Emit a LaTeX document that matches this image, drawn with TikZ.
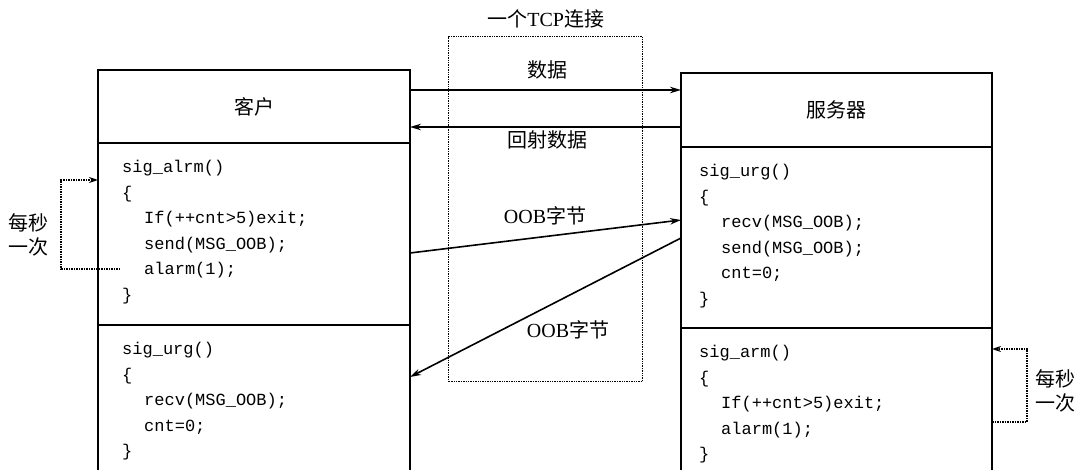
\documentclass[tikz,border=0pt]{standalone}
\usepackage{fontspec}
\setmainfont{Liberation Serif}
\setmonofont{Liberation Mono}
\newfontfamily\cjk{Noto Sans CJK SC}
\usetikzlibrary{positioning, arrows.meta}

\begin{document}
\begin{tikzpicture}[
    x=1pt, y=-1pt,
    part/.style={draw, line width=1.9pt, inner sep=0pt, outer sep=0pt, font=\cjk\fontsize{20}{24}\selectfont},
    code/.style={align=left, inner sep=0pt, font=\ttfamily\fontsize{17}{25.6}\selectfont},
    tag/.style={inner sep=0pt, align=center, font=\cjk\fontsize{20}{24}\selectfont},
    msg/.style={line width=1.6pt, -{Stealth[length=11pt, width=6.5pt]}},
    timer/.style={densely dotted, line width=1.5pt, -{Stealth[length=9pt, width=6pt]}}
]
    \useasboundingbox (0,0) rectangle (1085,470);

    % client
    \node[part, minimum width=312pt, minimum height=73pt, anchor=north west] (chead) at (98,70) {客户};
    \node[part, minimum width=312pt, minimum height=182pt, below=0pt of chead] (calrm) {};
    \node[part, minimum width=312pt, minimum height=155pt, below=0pt of calrm] (curg) {};

    % server
    \node[part, minimum width=311pt, minimum height=74pt, anchor=north west] (shead) at (681,73) {服务器};
    \node[part, minimum width=311pt, minimum height=181pt, below=0pt of shead] (surg) {};
    \node[part, minimum width=311pt, minimum height=152pt, below=0pt of surg] (sarm) {};

    % handler code
    \node[code, anchor=north west] (calrmcode) at ([xshift=24pt, yshift=-17pt]calrm.north west)
        {sig\_alrm()\\ \{\\ \hspace*{22pt}If(++cnt>5)exit;\\ \hspace*{22pt}send(MSG\_OOB);\\ \hspace*{22pt}alarm(1);\\ \}};
    \node[code, anchor=north west] (curgcode) at ([xshift=24pt, yshift=-17pt]curg.north west)
        {sig\_urg()\\ \{\\ \hspace*{22pt}recv(MSG\_OOB);\\ \hspace*{22pt}cnt=0;\\ \}};
    \node[code, anchor=north west] (surgcode) at ([xshift=18pt, yshift=-17pt]surg.north west)
        {sig\_urg()\\ \{\\ \hspace*{22pt}recv(MSG\_OOB);\\ \hspace*{22pt}send(MSG\_OOB);\\ \hspace*{22pt}cnt=0;\\ \}};
    \node[code, anchor=north west] (sarmcode) at ([xshift=18pt, yshift=-17pt]sarm.north west)
        {sig\_arm()\\ \{\\ \hspace*{22pt}If(++cnt>5)exit;\\ \hspace*{22pt}alarm(1);\\ \}};

    % the connection
    \node[draw, densely dotted, line width=1.4pt, minimum width=194pt, minimum height=345pt, anchor=north west] (tcp) at (448,36) {};
    \node[tag, above=8pt of tcp] (tcplbl) {一个{\rmfamily TCP}连接};

    \draw[msg] (chead.east |- 0,90) -- (shead.west |- 0,90);
    \draw[msg] (shead.west |- 0,127) -- (chead.east |- 0,127);
    \draw[msg] (calrm.east |- 0,253) -- (surg.west |- 0,220);
    \draw[msg] (surg.west |- 0,238) -- (curg.east |- 0,377);

    \node[tag] (datalbl) at (547,70) {数据};
    \node[tag] (echolbl) at (547,140) {回射数据};
    \node[tag] (ooblbl) at (545,216) {{\rmfamily OOB}字节};
    \node[tag] (ooblbl2) at (568,330) {{\rmfamily OOB}字节};

    % once per second
    \coordinate (calarm) at ([xshift=22pt]calrm.west |- 0,269);
    \draw[timer] (calarm) -- ++(-59,0) |- (calrm.west |- 0,180);
    \draw[timer] (sarm.east |- 0,422) -- ++(35,0) |- (sarm.east |- 0,349);
    \node[tag] (cevery) at (29,235) {每秒\\一次};
    \node[tag] (severy) at (1055,391) {每秒\\一次};
\end{tikzpicture}
\end{document}
